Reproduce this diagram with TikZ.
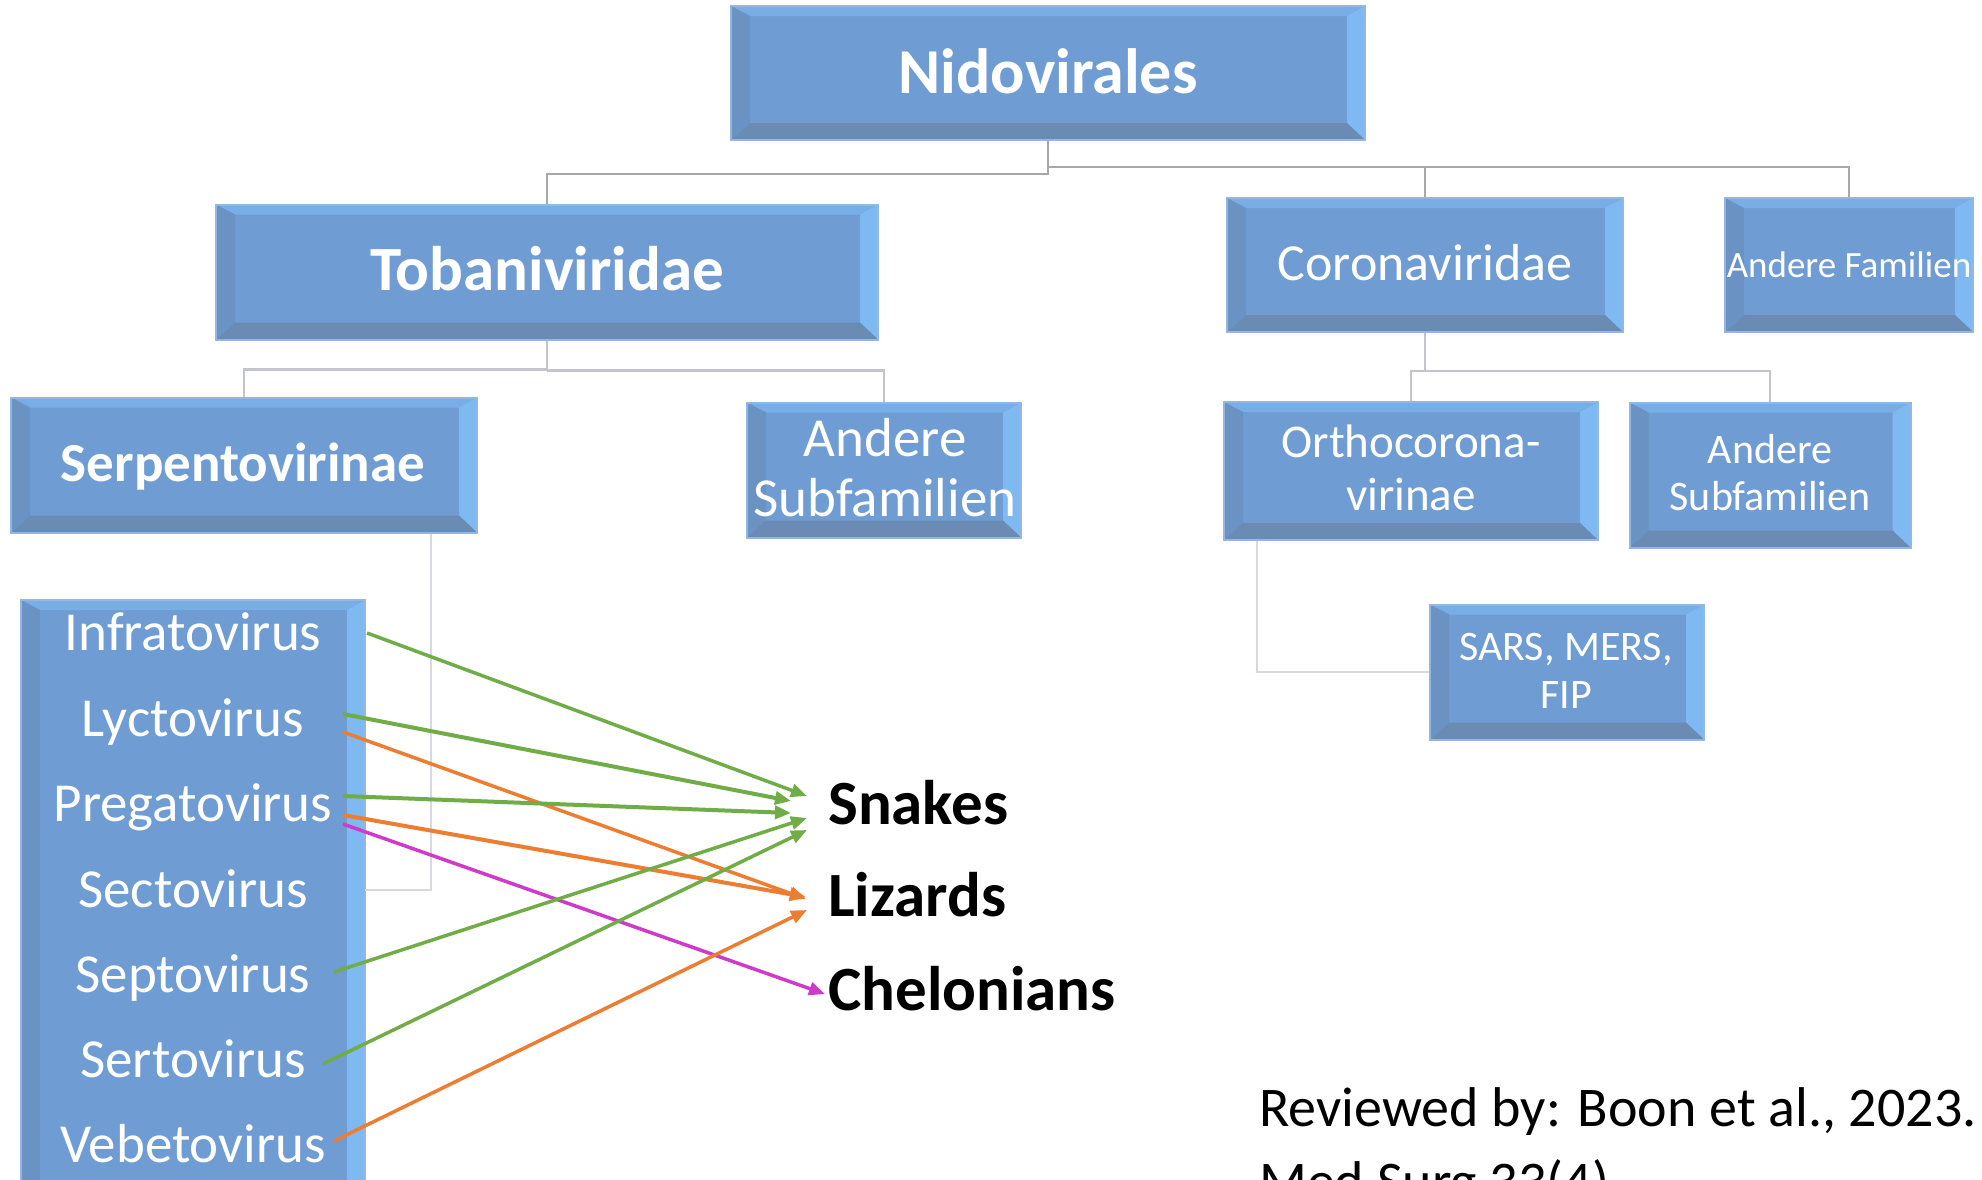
\documentclass[tikz,border=0pt]{standalone}
\usepackage{fontspec}
\setmainfont{Carlito}
\usetikzlibrary{arrows.meta,calc}
\definecolor{bmid}{HTML}{6F9DD3}
\definecolor{btop}{HTML}{78AEE6}
\definecolor{bright}{HTML}{7EB9F1}
\definecolor{bleft}{HTML}{6A93C3}
\definecolor{bbot}{HTML}{6A8BB4}
\definecolor{bedge}{HTML}{93B7E3}
\definecolor{cgray}{HTML}{A8A8A8}
\definecolor{cgrayl}{HTML}{C4C4CC}
\definecolor{cgrayxl}{HTML}{D8D8E2}
\definecolor{agreen}{HTML}{70AD47}
\definecolor{aorange}{HTML}{ED7D31}
\definecolor{amag}{HTML}{CF3AC8}
\newcommand\setfs[1]{\fontsize{#1}{#1}\selectfont}
\tikzset{
  box/.style={fill=bmid, draw=bedge, line width=2pt, inner sep=0pt,
    path picture={
      \fill[btop] (path picture bounding box.north west) -- (path picture bounding box.north east)
        -- ([shift={(-18,10)}]path picture bounding box.north east)
        -- ([shift={(19,10)}]path picture bounding box.north west) -- cycle;
      \fill[bright] (path picture bounding box.north east) -- (path picture bounding box.south east)
        -- ([shift={(-18,-17)}]path picture bounding box.south east)
        -- ([shift={(-18,10)}]path picture bounding box.north east) -- cycle;
      \fill[bbot] (path picture bounding box.south east) -- (path picture bounding box.south west)
        -- ([shift={(19,-17)}]path picture bounding box.south west)
        -- ([shift={(-18,-17)}]path picture bounding box.south east) -- cycle;
      \fill[bleft] (path picture bounding box.south west) -- (path picture bounding box.north west)
        -- ([shift={(19,10)}]path picture bounding box.north west)
        -- ([shift={(19,-17)}]path picture bounding box.south west) -- cycle;
    }},
  wt/.style={inner sep=0pt, anchor=base, text=white},
  bt/.style={inner sep=0pt, anchor=base west, text=black},
  conn/.style={draw=cgray, line width=2.5pt},
  connl/.style={draw=cgrayl, line width=2.5pt},
  conne/.style={draw=cgrayxl, line width=2.5pt},
  arr/.style={line width=3.5pt, -{Triangle[length=16pt,width=13pt]}},
}
\begin{document}
\begin{tikzpicture}[x=1pt,y=-1pt]
\useasboundingbox (0,0) rectangle (1982,1179);
\fill[white] (0,0) rectangle (1982,1179);

% boxes
\node[box, minimum width=634pt, minimum height=134pt] (nido) at (1048,73) {};
\node[box, minimum width=662pt, minimum height=135pt] (toba) at (547,272) {};
\node[box, minimum width=396pt, minimum height=134pt] (corona) at (1425,265) {};
\node[box, minimum width=248pt, minimum height=134pt] (andfam) at (1849,265) {};
\node[box, minimum width=466pt, minimum height=135pt] (serp) at (244,465) {};
\node[box, minimum width=274pt, minimum height=135pt] (andsubA) at (884,470) {};
\node[box, minimum width=374pt, minimum height=138pt] (ortho) at (1411,471) {};
\node[box, minimum width=281pt, minimum height=145pt] (andsubB) at (1770,475) {};
\node[box, minimum width=274pt, minimum height=135pt] (sars) at (1567,672) {};
\node[box, minimum width=344pt, minimum height=620pt] (genus) at (193,910) {};

% connectors
\draw[conn] (nido.south) -- ++(0,33) -| (toba.north);
\draw[conn] (nido.south) ++(0,26) -| (corona.north);
\draw[conn] (nido.south) ++(0,26) -| (andfam.north);
\draw[connl] (toba.south) -- ++(0,29) -| (serp.north);
\draw[connl] (toba.south) ++(0,30) -| (andsubA.north);
\draw[connl] (corona.south) -- ++(0,38) -- ++(-14,0) -- (ortho.north);
\draw[connl] (corona.south) ++(0,38) -| (andsubB.north);
\coordinate (sjoin) at (365,890);
\draw[conne] ([xshift=187pt]serp.south) |- (sjoin);
\draw[conne] ([xshift=-154pt]ortho.south) |- (sars.west);

% box texts
\node[wt, font=\setfs{64}\bfseries] (nidoT) at (1048,93) {Nidovirales};
\node[wt, font=\setfs{63}\bfseries] (tobaT) at (547,290) {Tobaniviridae};
\node[wt, font=\setfs{52}] (coronaT) at (1425,280) {Coronaviridae};
\node[wt, font=\setfs{37}] (andfamT) at (1849,277) {Andere Familien};
\node[wt, font=\setfs{55}\bfseries] (serpT) at (243,481) {Serpentovirinae};
\node[wt, font=\setfs{55}] (andsubA1) at (885,456) {Andere};
\node[wt, font=\setfs{55}] (andsubA2) at (885,516) {Subfamilien};
\node[wt, font=\setfs{47}] (ortho1) at (1411,457) {Orthocorona-};
\node[wt, font=\setfs{47}] (ortho2) at (1411,510) {virinae};
\node[wt, font=\setfs{42}] (andsubB1) at (1770,463) {Andere};
\node[wt, font=\setfs{42}] (andsubB2) at (1770,510) {Subfamilien};
\node[wt, font=\setfs{42}] (sars1) at (1566,660) {SARS, MERS,};
\node[wt, font=\setfs{42}] (sars2) at (1566,708) {FIP};

% genus names
\node[wt, font=\setfs{55}] (infra) at (193,650) {Infratovirus};
\node[wt, font=\setfs{55}] (lycto) at (193,736) {Lyctovirus};
\node[wt, font=\setfs{55}] (prega) at (193,821) {Pregatovirus};
\node[wt, font=\setfs{55}] (secto) at (193,907) {Sectovirus};
\node[wt, font=\setfs{55}] (septo) at (193,992) {Septovirus};
\node[wt, font=\setfs{55}] (serto) at (193,1077) {Sertovirus};
\node[wt, font=\setfs{55}] (vebeto) at (193,1162) {Vebetovirus};

% hosts
\node[bt, font=\setfs{63}\bfseries] (snakes) at (828,824) {Snakes};
\node[bt, font=\setfs{63}\bfseries] (lizards) at (828,916) {Lizards};
\node[bt, font=\setfs{63}\bfseries] (chelon) at (828,1010) {Chelonians};

% reference
\node[bt, font=\setfs{56}] (rev1) at (1259,1126) {Reviewed by: Boon et al., 2023.};
\node[bt, font=\setfs{56}] (rev2) at (1259,1200) {Med Surg 33(4)};

% arrows
\draw[arr, agreen] ($(infra.base)+(174,-17)$) -- ($(snakes.base west)+(-21,-28)$);
\draw[arr, agreen, line width=4pt] ($(lycto.base)+(150,-22)$) -- ($(snakes.base west)+(-37,-23)$);
\draw[arr, aorange] ($(lycto.base)+(150,-4)$) -- ($(lizards.base west)+(-22,-17)$);
\draw[arr, agreen, line width=4pt] ($(prega.base)+(150,-25)$) -- ($(snakes.base west)+(-37,-11)$);
\draw[arr, aorange, line width=4pt] ($(prega.base)+(150,-6)$) -- ($(lizards.base west)+(-22,-19)$);
\draw[arr, amag] ($(prega.base)+(150,3)$) -- ($(chelon.base west)+(-3,-16)$);
\draw[arr, agreen] ($(septo.base)+(141,-20)$) -- ($(snakes.base west)+(-21,-6)$);
\draw[arr, agreen] ($(serto.base)+(130,-13)$) -- ($(snakes.base west)+(-21,6)$);
\draw[arr, aorange] ($(vebeto.base)+(141,-21)$) -- ($(lizards.base west)+(-21,-6)$);
\end{tikzpicture}
\end{document}
